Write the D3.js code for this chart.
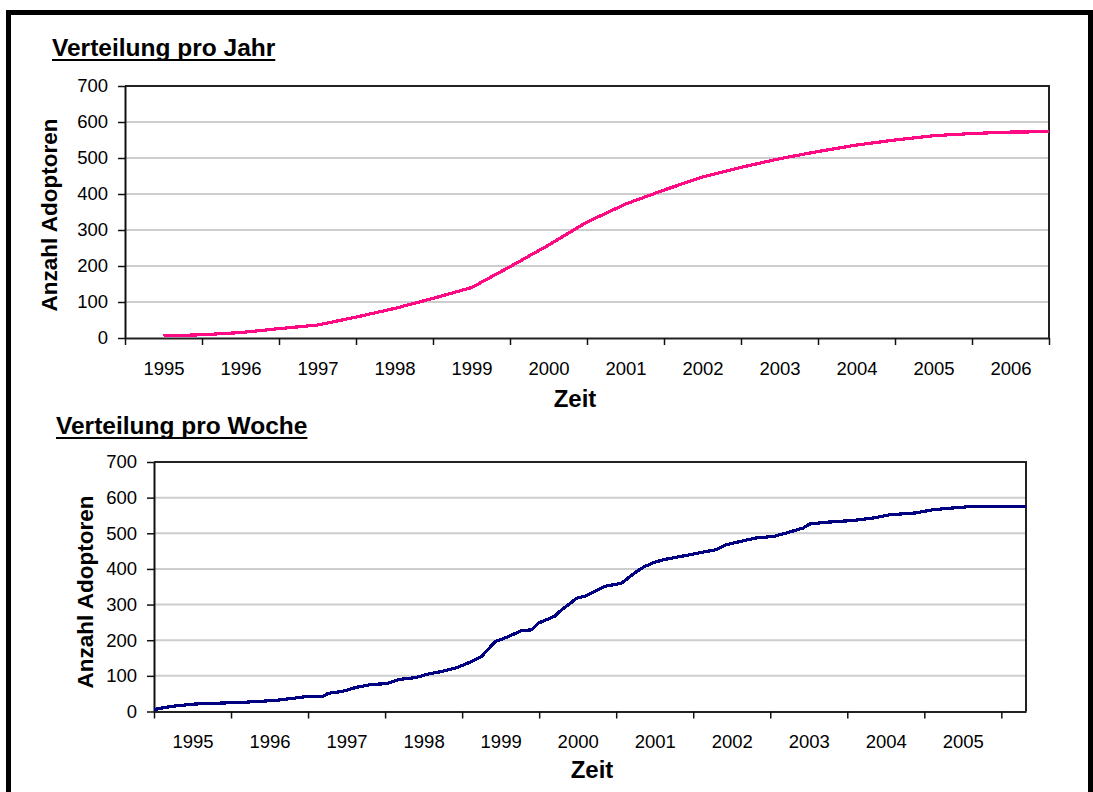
<!DOCTYPE html>
<html>
<head>
<meta charset="utf-8">
<script src="https://cdn.jsdelivr.net/npm/d3@7"></script>
<style>
  html, body { margin: 0; padding: 0; background: #fff; }
  svg { display: block; }
  text { font-family: "Liberation Sans", Arial, sans-serif; fill: #000; }
</style>
</head>
<body>
<svg id="chart" width="1093" height="792"></svg>
<script>
// Cumulative adopters, yearly sampling (x = position on the year axis)
const yearlyX = [1995.0, 1995.5, 1996.0, 1996.5, 1997.0, 1997.5, 1998.0, 1998.5,
                 1999.0, 1999.5, 2000.0, 2000.5, 2001.0, 2001.5, 2002.0, 2002.5,
                 2003.0, 2003.5, 2004.0, 2004.5, 2005.0, 2005.5, 2006.0, 2006.5];
const yearlyAdopters = [6, 9, 15, 26, 36, 58, 82, 110,
                        140, 198, 258, 322, 372, 411, 447, 474,
                        498, 518, 536, 550, 562, 568, 572, 573];

// Cumulative adopters, weekly sampling (x = fractional year)
const weeklyX = [1995.00, 1995.08, 1995.25, 1995.53, 1996.18, 1996.57, 1996.81, 1996.98,
                 1997.20, 1997.26, 1997.44, 1997.63, 1997.83, 1998.02, 1998.19, 1998.39,
                 1998.56, 1998.73, 1998.93, 1999.12, 1999.25, 1999.43, 1999.60, 1999.77,
                 1999.90, 1999.99, 2000.20, 2000.29, 2000.49, 2000.59, 2000.85, 2001.07,
                 2001.24, 2001.37, 2001.48, 2001.61, 2001.74, 2001.96, 2002.17, 2002.30,
                 2002.43, 2002.61, 2002.82, 2003.04, 2003.21, 2003.43, 2003.51, 2003.73,
                 2004.08, 2004.34, 2004.55, 2004.88, 2005.11, 2005.37, 2005.66, 2006.32];
const weeklyAdopters = [5, 9, 15, 21, 26, 31, 37, 42,
                        43, 51, 56, 68, 76, 78, 90, 95,
                        105, 112, 123, 140, 154, 196, 210, 227,
                        229, 248, 267, 285, 318, 323, 351, 360,
                        389, 407, 417, 426, 431, 440, 449, 454,
                        468, 477, 487, 491, 501, 515, 526, 531,
                        536, 543, 552, 557, 566, 571, 576, 576];

const yTickValues = [0, 100, 200, 300, 400, 500, 600, 700];
const yearLabelsTop = ["1995", "1996", "1997", "1998", "1999", "2000",
                       "2001", "2002", "2003", "2004", "2005", "2006"];
const yearLabelsBottom = ["1995", "1996", "1997", "1998", "1999", "2000",
                          "2001", "2002", "2003", "2004", "2005"];

const svg = d3.select("#chart");

// outer black frame
svg.append("rect")
  .attr("x", 8.5).attr("y", 12.5)
  .attr("width", 1082).attr("height", 900)
  .attr("fill", "none").attr("stroke", "#000").attr("stroke-width", 5);

function drawPanel(p) {
  const g = svg.append("g");
  const x = d3.scaleLinear().domain(p.xDomain).range([p.left, p.right]);
  const y = d3.scaleLinear().domain([0, 700]).range([p.bottom, p.top]);

  // title with underline
  const t = g.append("text")
    .attr("x", p.titleX).attr("y", p.titleBaseline)
    .attr("font-size", 24.5).attr("font-weight", "bold")
    .text(p.title);
  const tw = t.node().getComputedTextLength();
  g.append("rect")
    .attr("x", p.titleX).attr("y", p.titleBaseline + 3)
    .attr("width", tw).attr("height", 2).attr("fill", "#000");

  // horizontal gridlines
  g.append("g").selectAll("line")
    .data(yTickValues.filter(v => v > 0 && v < 700))
    .join("line")
    .attr("x1", p.left).attr("x2", p.right)
    .attr("y1", d => y(d)).attr("y2", d => y(d))
    .attr("stroke", "#cdcdcd").attr("stroke-width", 2);

  // plot frame (top and right)
  g.append("path")
    .attr("d", `M${p.left},${p.top}H${p.right}V${p.bottom}`)
    .attr("fill", "none").attr("stroke", "#222").attr("stroke-width", 2);

  // y axis
  const ya = g.append("g")
    .attr("transform", `translate(${p.left},0)`)
    .call(d3.axisLeft(y).tickValues(yTickValues).tickSize(7).tickPadding(10).tickSizeOuter(0));
  ya.select(".domain").attr("stroke", "#111").attr("stroke-width", 2);
  ya.selectAll(".tick line").attr("stroke", "#111").attr("stroke-width", 1.5);
  ya.selectAll("text")
    .attr("font-size", 18.5)
    .attr("font-family", "'Liberation Sans', Arial, sans-serif")
    .attr("fill", "#000");

  // x axis: tick marks at the year boundaries
  const xa = g.append("g")
    .attr("transform", `translate(0,${p.bottom})`)
    .call(d3.axisBottom(x).tickValues(p.boundaries).tickFormat("").tickSize(7).tickSizeOuter(0));
  xa.select(".domain").attr("stroke", "#222").attr("stroke-width", 2);
  xa.selectAll(".tick line").attr("stroke", "#111").attr("stroke-width", 1.5);

  // x axis: year labels centred between the marks
  const xl = g.append("g")
    .attr("transform", `translate(0,${p.bottom})`)
    .call(d3.axisBottom(x).tickValues(p.labelPos)
      .tickFormat((d, i) => p.labels[i]).tickSize(0).tickPadding(0));
  xl.select(".domain").remove();
  xl.selectAll("text")
    .attr("y", p.xLabelOffset).attr("dy", null)
    .attr("font-size", 18.5)
    .attr("font-family", "'Liberation Sans', Arial, sans-serif")
    .attr("fill", "#000");

  // axis titles
  g.append("text")
    .attr("x", p.zeitX).attr("y", p.zeitBaseline)
    .attr("text-anchor", "middle")
    .attr("font-size", 24).attr("font-weight", "bold")
    .text("Zeit");
  g.append("text")
    .attr("transform", `translate(${p.yTitleX},${p.yTitleY}) rotate(-90)`)
    .attr("text-anchor", "middle")
    .attr("font-size", 22.5).attr("font-weight", "bold")
    .text("Anzahl Adoptoren");

  // data line
  const line = d3.line().x((d, i) => x(p.xs[i])).y(d => y(d));
  g.append("path")
    .datum(p.ys)
    .attr("d", line)
    .attr("fill", "none")
    .attr("stroke", p.color)
    .attr("stroke-width", 3.2)
    .attr("stroke-linejoin", "round")
    .attr("shape-rendering", "crispEdges");
}

drawPanel({
  title: "Verteilung pro Jahr", titleX: 52, titleBaseline: 56,
  left: 125, right: 1049, top: 86, bottom: 338,
  xDomain: [1994.5, 2006.5],
  boundaries: d3.range(1994.5, 2006.6, 1),
  labelPos: yearLabelsTop.map(Number),
  labels: yearLabelsTop,
  xLabelOffset: 37,
  zeitX: 575, zeitBaseline: 407,
  yTitleX: 57, yTitleY: 215,
  xs: yearlyX, ys: yearlyAdopters, color: "#ff0a82"
});

drawPanel({
  title: "Verteilung pro Woche", titleX: 56, titleBaseline: 434,
  left: 154, right: 1026, top: 462, bottom: 711.5,
  xDomain: [1995, 2006.32],
  boundaries: d3.range(1995, 2006.5, 1),
  labelPos: yearLabelsBottom.map(v => +v + 0.5),
  labels: yearLabelsBottom,
  xLabelOffset: 36.5,
  zeitX: 592, zeitBaseline: 778,
  yTitleX: 93, yTitleY: 592,
  xs: weeklyX, ys: weeklyAdopters, color: "#000080"
});
</script>
</body>
</html>
